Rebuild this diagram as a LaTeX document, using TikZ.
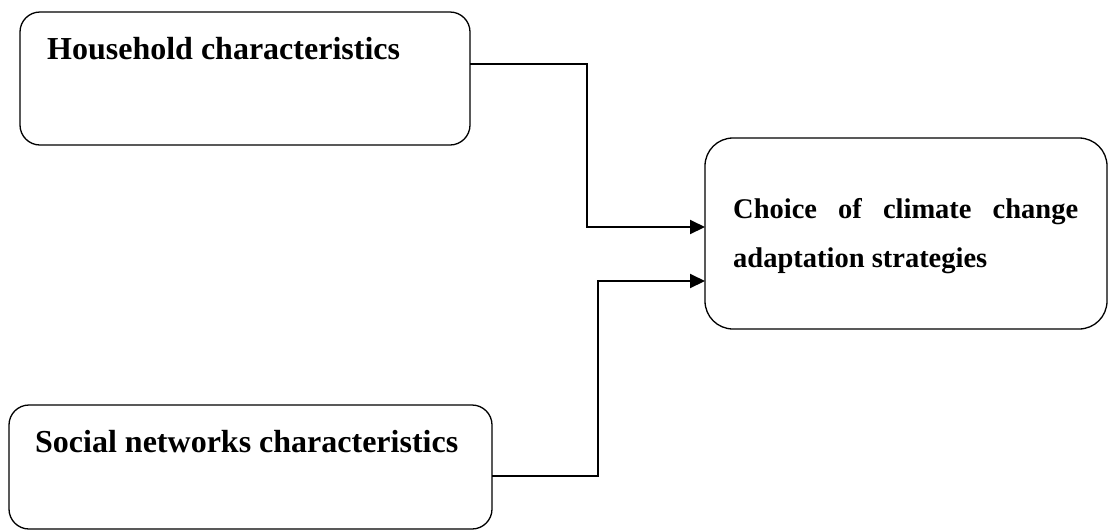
\documentclass[tikz,border=0pt]{standalone}
\usepackage{fontspec}
\setmainfont{Liberation Serif}
\usetikzlibrary{arrows.meta}
\begin{document}
\begin{tikzpicture}[x=1pt,y=-1pt,
  box/.style={draw, line width=1.3pt, rounded corners=20pt, inner sep=0pt, outer sep=0pt, anchor=north west},
  lbl/.style={anchor=base west, inner sep=0pt, font=\bfseries\fontsize{32}{38}\selectfont},
  lblsmall/.style={anchor=base west, inner sep=0pt, font=\bfseries\fontsize{28.5}{34}\selectfont},
  conn/.style={line width=2pt, -{Triangle[length=15pt,width=14pt]}}]
\useasboundingbox (0,0) rectangle (1108,531);
\node[box, minimum width=450pt, minimum height=133pt] (hh) at (20,12) {};
\node[box, minimum width=483pt, minimum height=124pt] (sn) at (9,405) {};
\node[box, rounded corners=28pt, minimum width=402pt, minimum height=191pt] (choice) at (705,138) {};
\node[lbl] (hht) at (47,59) {Household characteristics};
\node[lbl] (snt) at (35,452) {Social networks characteristics};
\node[lblsmall] (ct1) at (733,218) {\makebox[345pt][s]{Choice of climate change}};
\node[lblsmall] (ct2) at (733,267) {adaptation strategies};
\draw[conn] ([yshift=14.5pt]hh.east) -- ++(117,0) |- ([yshift=6.5pt]choice.west);
\draw[conn] ([yshift=-9pt]sn.east) -- ++(106,0) |- ([yshift=-47.5pt]choice.west);
\end{tikzpicture}
\end{document}
